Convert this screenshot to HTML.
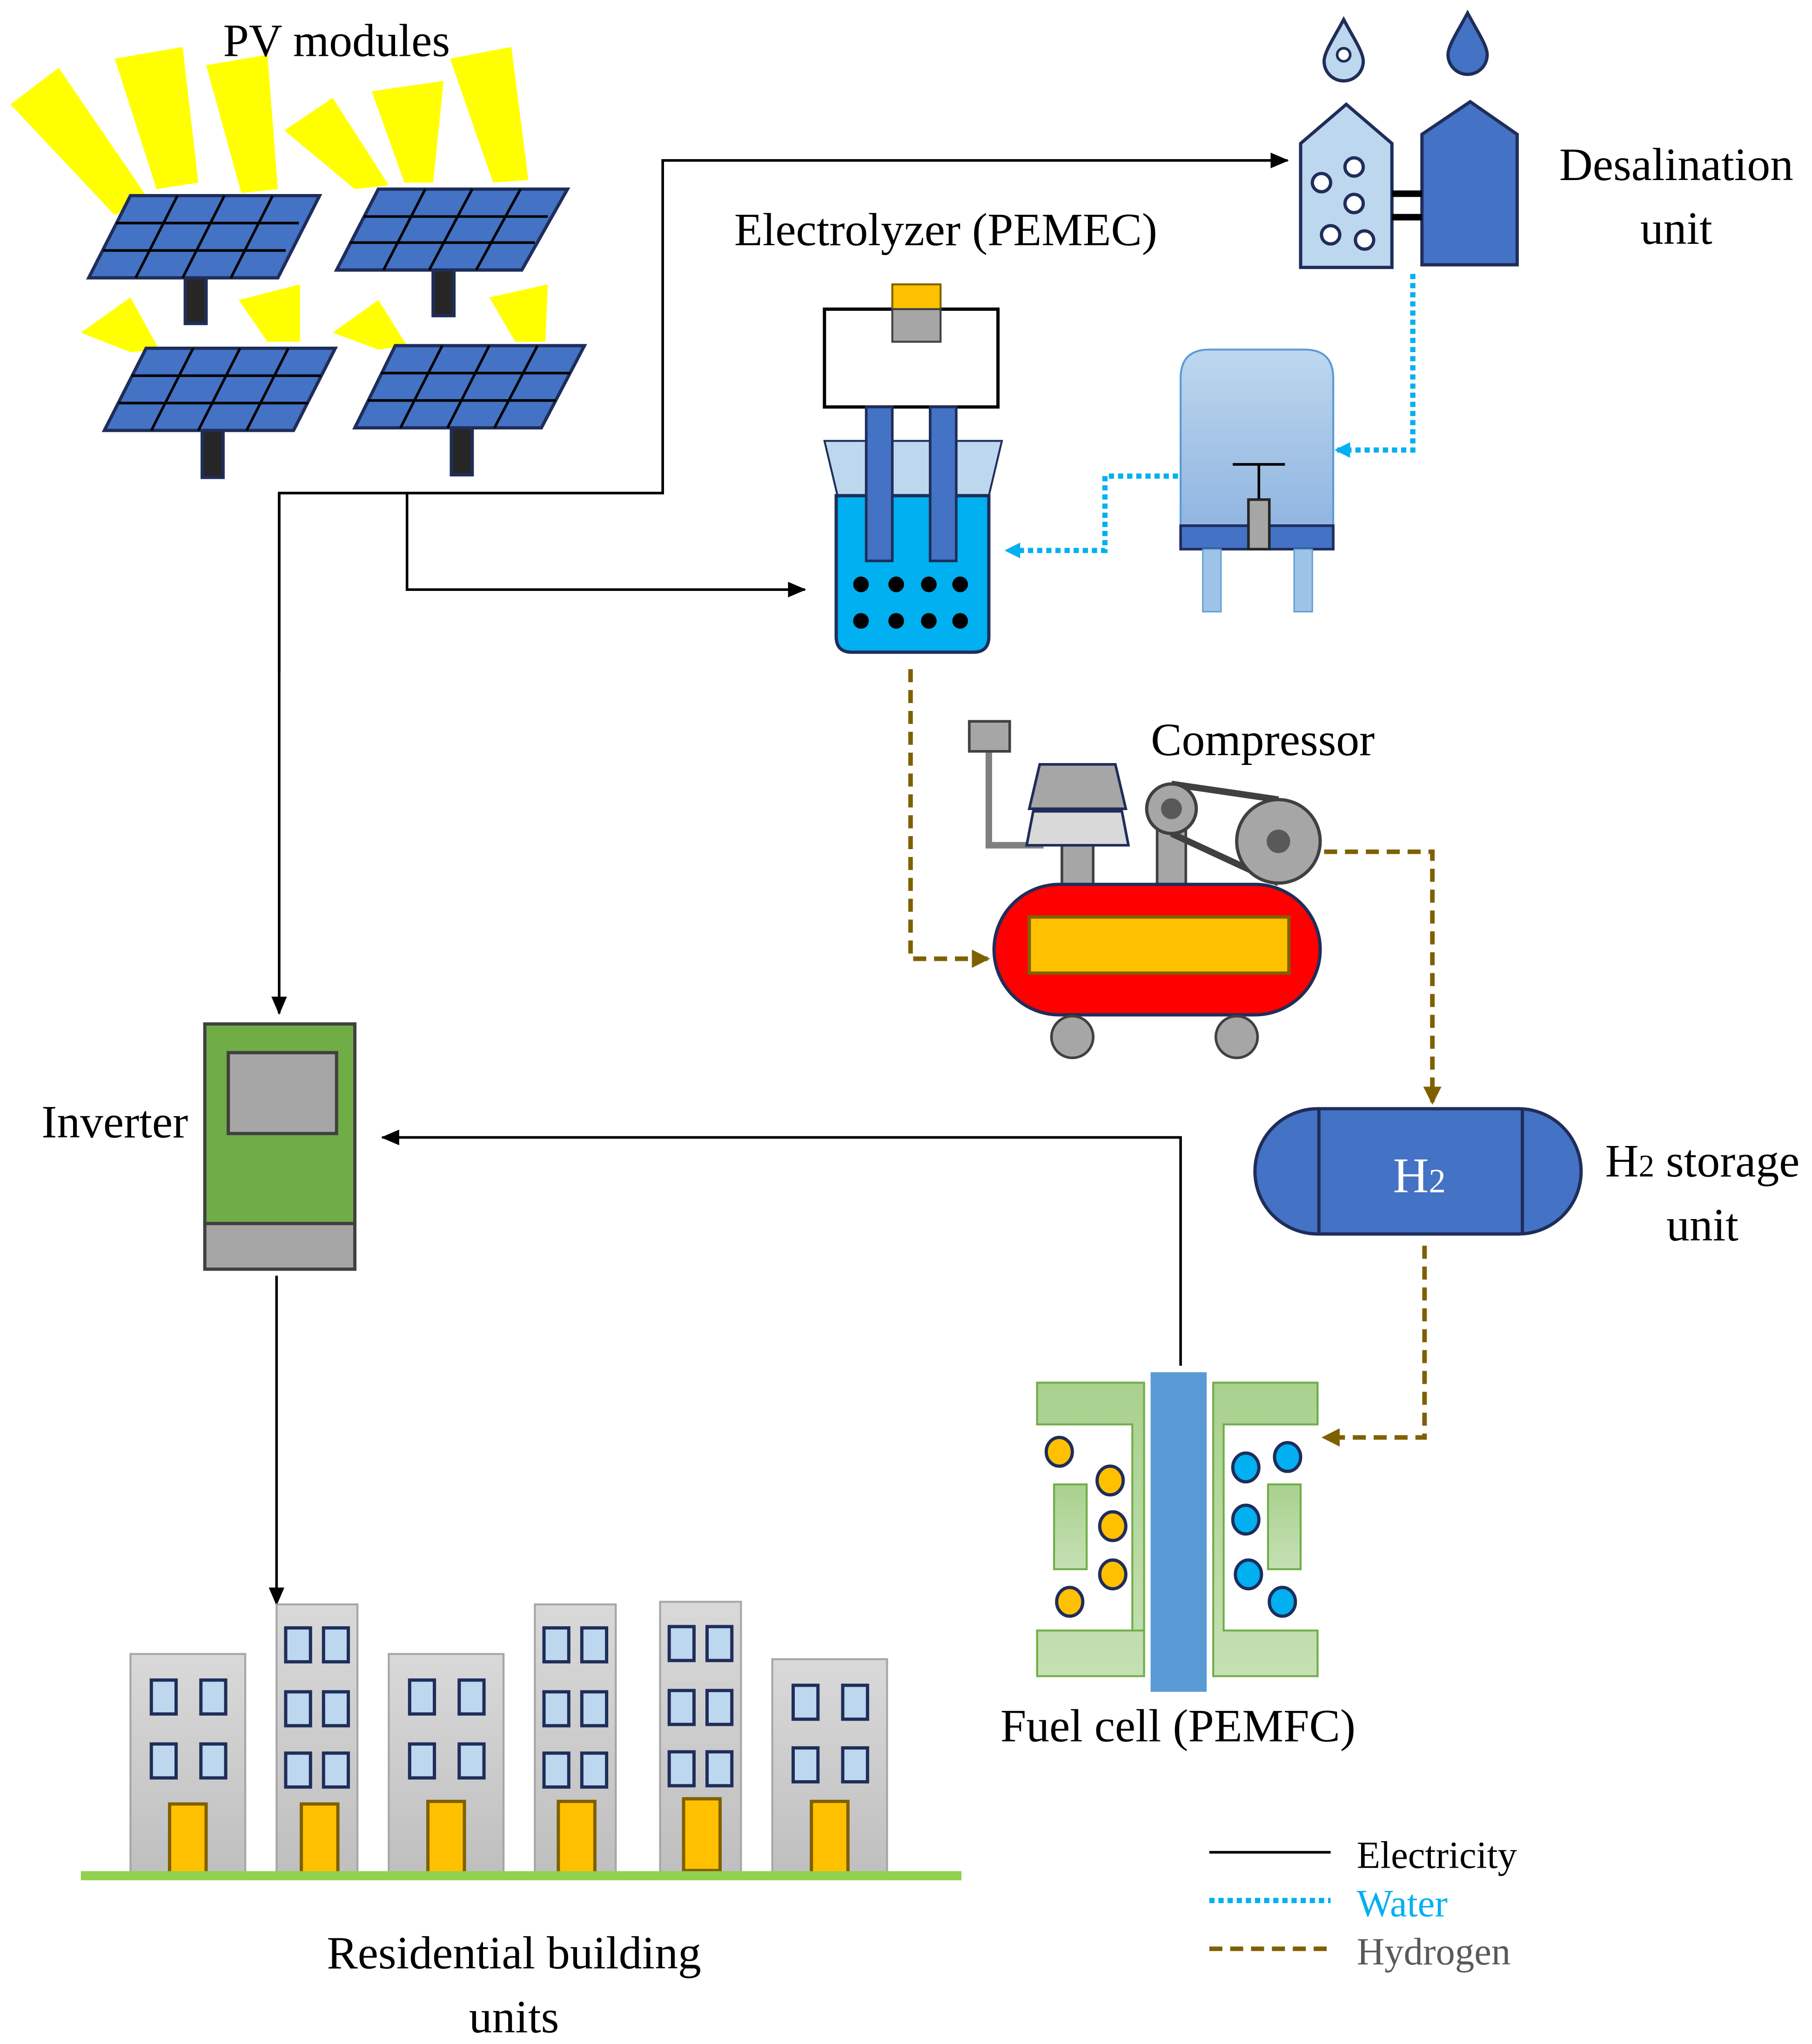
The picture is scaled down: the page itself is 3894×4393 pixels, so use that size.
<!DOCTYPE html>
<html><head><meta charset="utf-8"><style>
html,body{margin:0;padding:0;background:#fff;}
svg{display:block;}
text{font-family:"Liberation Serif",serif;}
</style></head><body>
<svg width="3894" height="4393" viewBox="0 0 1389 1567" xmlns="http://www.w3.org/2000/svg">
<defs>
<marker id="ab" markerWidth="14" markerHeight="12" refX="13" refY="6" orient="auto" markerUnits="userSpaceOnUse"><path d="M0,0 L14,6 L0,12 z" fill="#000"/></marker>
<marker id="aw" markerWidth="12" markerHeight="12" refX="10" refY="6" orient="auto" markerUnits="userSpaceOnUse"><path d="M0,0 L12,6 L0,12 z" fill="#00B0F0"/></marker>
<marker id="ah" markerWidth="14" markerHeight="14" refX="12" refY="7" orient="auto" markerUnits="userSpaceOnUse"><path d="M0,0 L14,7 L0,14 z" fill="#7F6000"/></marker>
<linearGradient id="tg" x1="0" y1="0" x2="0" y2="1"><stop offset="0" stop-color="#BDD7EE"/><stop offset="1" stop-color="#8FB4E0"/></linearGradient>
<linearGradient id="bg" x1="0" y1="0" x2="0" y2="1"><stop offset="0" stop-color="#D9D9D9"/><stop offset="1" stop-color="#BFBFBF"/></linearGradient>
<linearGradient id="fg" x1="0" y1="0" x2="0" y2="1"><stop offset="0" stop-color="#A9D18E"/><stop offset="1" stop-color="#C5E0B4"/></linearGradient>
</defs>

<g fill="#FFFF00">
<polygon points="8,80 45,52 112,150 88,165"/>
<polygon points="88,45 140,36 152,140 120,145"/>
<polygon points="158,50 205,42 213,145 185,148"/>
<polygon points="218,100 255,75 298,142 272,145"/>
<polygon points="285,70 340,62 332,140 310,140"/>
<polygon points="345,45 392,36 405,138 378,140"/>
<polygon points="62,255 100,228 122,268 100,270"/>
<polygon points="183,230 230,218 230,262 205,262"/>
<polygon points="255,255 290,230 312,265 290,268"/>
<polygon points="375,228 420,218 418,262 395,262"/>
</g>
<g stroke="#1F2D5A" stroke-width="2.5">
<rect x="142" y="213" width="16" height="35" fill="#262626"/>
<rect x="332" y="207" width="16" height="35" fill="#262626"/>
<rect x="155" y="330" width="16" height="36" fill="#262626"/>
<rect x="346" y="328" width="16" height="36" fill="#262626"/>
</g>
<g fill="#4472C4" stroke="#1F2D5A" stroke-width="2.5">
<polygon points="100,150 245,150 213,213 68,213"/>
<polygon points="290,145 435,145 400,207 258,207"/>
<polygon points="112,267 257,267 225,330 80,330"/>
<polygon points="303,265 448,265 415,328 272,328"/>
</g>
<g stroke="#000" stroke-width="2">
<path d="M89,171 H229 M79,192 H219 M136,150 L104,213 M172,150 L140,213 M209,150 L177,213"/>
<path d="M279,166 H420 M268,186 H410 M326,145 L294,207 M362,145 L329,207 M399,145 L365,207"/>
<path d="M101,288 H246 M91,309 H236 M148,267 L116,330 M184,267 L152,330 M221,267 L189,330"/>
<path d="M292,286 H437 M282,307 H426 M339,265 L307,328 M375,265 L343,328 M412,265 L379,328"/>
</g>
<text x="258" y="43" font-size="35.5" text-anchor="middle">PV modules</text>

<g stroke="#000" stroke-width="2" fill="none">
<path d="M214,515 V378 H508 V123 H987" marker-end="url(#ab)"/>
<path d="M312,378 V452 H617" marker-end="url(#ab)"/>
<path d="M214,378 V777" marker-end="url(#ab)"/>
<path d="M212,978 V1230" marker-end="url(#ab)"/>
<path d="M905,1047 V872 H293" marker-end="url(#ab)"/>
</g>

<polygon points="997,205 997,110 1032,80 1067,110 1067,205" fill="#BDD7EE" stroke="#1F2D5A" stroke-width="2.5"/>
<polygon points="1090,203 1090,103 1127,78 1163,103 1163,203" fill="#4472C4" stroke="#1F2D5A" stroke-width="2.5"/>
<g fill="#fff" stroke="#1F2D5A" stroke-width="2.5">
<circle cx="1013" cy="140" r="7"/><circle cx="1038" cy="128" r="7"/><circle cx="1038" cy="156" r="7"/>
<circle cx="1020" cy="180" r="7"/><circle cx="1046" cy="184" r="7"/>
</g>
<rect x="1067" y="146" width="23" height="5" fill="#000"/><rect x="1067" y="164" width="23" height="5" fill="#000"/>
<path d="M1030,15 C1038,30 1045,40 1045,47 A15,15 0 0 1 1015,47 C1015,40 1022,30 1030,15 z" fill="#BDD7EE" stroke="#1F2D5A" stroke-width="2.5"/>
<circle cx="1030" cy="42" r="5" fill="#fff" stroke="#1F2D5A" stroke-width="2"/>
<path d="M1125,10 C1133,25 1140,35 1140,42 A15,15 0 0 1 1110,42 C1110,35 1117,25 1125,10 z" fill="#4472C4" stroke="#1F2D5A" stroke-width="2.5"/>
<text x="1285" y="138" font-size="35.5" text-anchor="middle">Desalination</text>
<text x="1285" y="187" font-size="35.5" text-anchor="middle">unit</text>

<g stroke="#00B0F0" stroke-width="4" stroke-dasharray="4,3" fill="none">
<path d="M1083,210 V345 H1025" marker-end="url(#aw)"/>
<path d="M903,365 H847 V422 H772" marker-end="url(#aw)"/>
</g>

<path d="M905,408 V290 Q905,268 927,268 H1000 Q1022,268 1022,290 V408 z" fill="url(#tg)" stroke="#5B9BD5" stroke-width="1.5"/>
<rect x="905" y="403" width="117" height="18" fill="#4472C4" stroke="#1F2D5A" stroke-width="2"/>
<rect x="922" y="421" width="14" height="48" fill="#9DC3E6" stroke="#5B9BD5"/>
<rect x="992" y="421" width="14" height="48" fill="#9DC3E6" stroke="#5B9BD5"/>
<path d="M945,356 H985 M965,356 V383" stroke="#000" stroke-width="2"/>
<rect x="957" y="383" width="16" height="38" fill="#A6A6A6" stroke="#262626" stroke-width="2"/>

<rect x="632" y="237" width="133" height="75" fill="#fff" stroke="#000" stroke-width="2.5"/>
<rect x="684" y="218" width="37" height="19" fill="#FFC000" stroke="#7F6000" stroke-width="1.5"/>
<rect x="684" y="237" width="37" height="25" fill="#A6A6A6" stroke="#404040" stroke-width="1.5"/>
<polygon points="632,338 768,338 758,380 642,380" fill="#BDD7EE" stroke="#1F2D5A" stroke-width="1.5"/>
<path d="M641,380 H758 V488 Q758,500 746,500 H653 Q641,500 641,488 z" fill="#00B0F0" stroke="#1F2D5A" stroke-width="2.5"/>
<rect x="664" y="312" width="20" height="118" fill="#4472C4" stroke="#1F2D5A" stroke-width="2"/>
<rect x="713" y="312" width="20" height="118" fill="#4472C4" stroke="#1F2D5A" stroke-width="2"/>
<g fill="#000">
<circle cx="660" cy="448" r="6"/><circle cx="687" cy="448" r="6"/><circle cx="712" cy="448" r="6"/><circle cx="736" cy="448" r="6"/>
<circle cx="660" cy="476" r="6"/><circle cx="687" cy="476" r="6"/><circle cx="712" cy="476" r="6"/><circle cx="736" cy="476" r="6"/>
</g>
<text x="725" y="188" font-size="35.5" text-anchor="middle">Electrolyzer (PEMEC)</text>

<g stroke="#7F6000" stroke-width="3.5" stroke-dasharray="10,6" fill="none">
<path d="M698,513 V735 H757" marker-end="url(#ah)"/>
<path d="M1015,653 H1098 V845" marker-end="url(#ah)"/>
<path d="M1092,955 V1102 H1015" marker-end="url(#ah)"/>
</g>

<path d="M758,575 V648 H800" stroke="#808080" stroke-width="5" fill="none"/>
<rect x="743" y="553" width="31" height="23" fill="#A6A6A6" stroke="#404040" stroke-width="2"/>
<rect x="814" y="648" width="24" height="32" fill="#A6A6A6" stroke="#404040" stroke-width="2"/>
<polygon points="792,622 860,622 865,648 787,648" fill="#D9D9D9" stroke="#1F2D5A" stroke-width="2"/>
<polygon points="797,586 855,586 863,620 789,620" fill="#A6A6A6" stroke="#1F2D5A" stroke-width="2"/>
<rect x="887" y="620" width="22" height="60" fill="#A6A6A6" stroke="#404040" stroke-width="2"/>
<path d="M898,601 L980,613 M898,639 L980,677" stroke="#404040" stroke-width="5"/>
<circle cx="980" cy="645" r="32" fill="#A6A6A6" stroke="#404040" stroke-width="2.5"/>
<circle cx="980" cy="645" r="9" fill="#595959"/>
<circle cx="898" cy="620" r="19" fill="#A6A6A6" stroke="#404040" stroke-width="2.5"/>
<circle cx="898" cy="620" r="8" fill="#595959"/>
<rect x="762" y="678" width="250" height="100" rx="50" fill="#FF0000" stroke="#1F2D5A" stroke-width="2.5"/>
<rect x="789" y="703" width="199" height="43" fill="#FFC000" stroke="#7F6000" stroke-width="2.5"/>
<circle cx="822" cy="795" r="16" fill="#A6A6A6" stroke="#404040" stroke-width="2"/>
<circle cx="948" cy="795" r="16" fill="#A6A6A6" stroke="#404040" stroke-width="2"/>
<text x="968" y="579" font-size="35.5" text-anchor="middle">Compressor</text>

<rect x="962" y="850" width="250" height="96" rx="48" fill="#4472C4" stroke="#1F2D5A" stroke-width="2.5"/>
<path d="M1011,850 V946 M1167,850 V946" stroke="#1F2D5A" stroke-width="2.5"/>
<text x="1088" y="914" font-size="38" fill="#fff" text-anchor="middle">H<tspan font-size="26">2</tspan></text>
<text x="1305" y="902" font-size="35.5" text-anchor="middle">H<tspan font-size="24">2</tspan> storage</text>
<text x="1305" y="951" font-size="35.5" text-anchor="middle">unit</text>

<rect x="157" y="785" width="115" height="153" fill="#70AD47" stroke="#404040" stroke-width="2.5"/>
<rect x="175" y="807" width="83" height="62" fill="#A6A6A6" stroke="#404040" stroke-width="2.5"/>
<rect x="157" y="938" width="115" height="35" fill="#A6A6A6" stroke="#404040" stroke-width="2.5"/>
<text x="88" y="872" font-size="35.5" text-anchor="middle">Inverter</text>

<g fill="url(#fg)" stroke="#70AD47" stroke-width="1.5">
<path d="M795,1060 H877 V1250 H795 V1285 H877 V1250 H868 V1092 H795 z"/>
<path d="M1010,1060 H930 V1285 H1010 V1250 H938 V1092 H1010 z"/>
<rect x="808" y="1138" width="25" height="65"/>
<rect x="972" y="1138" width="25" height="65"/>
</g>
<rect x="882" y="1052" width="43" height="245" fill="#5B9BD5"/>
<g fill="#FFC000" stroke="#1F2D5A" stroke-width="2.5">
<ellipse cx="812" cy="1113" rx="10" ry="11"/><ellipse cx="851" cy="1135" rx="10" ry="11"/>
<ellipse cx="853" cy="1170" rx="10" ry="11"/><ellipse cx="853" cy="1207" rx="10" ry="11"/>
<ellipse cx="820" cy="1228" rx="10" ry="11"/>
</g>
<g fill="#00B0F0" stroke="#1F2D5A" stroke-width="2.5">
<ellipse cx="955" cy="1125" rx="10" ry="11"/><ellipse cx="987" cy="1117" rx="10" ry="11"/>
<ellipse cx="955" cy="1165" rx="10" ry="11"/><ellipse cx="957" cy="1207" rx="10" ry="11"/>
<ellipse cx="983" cy="1228" rx="10" ry="11"/>
</g>
<text x="903" y="1335" font-size="35.5" text-anchor="middle">Fuel cell (PEMFC)</text>

<g stroke="#A6A6A6" stroke-width="1.5" fill="url(#bg)">
<rect x="100" y="1268" width="88" height="168"/>
<rect x="212" y="1230" width="62" height="206"/>
<rect x="298" y="1268" width="88" height="168"/>
<rect x="410" y="1230" width="62" height="206"/>
<rect x="506" y="1228" width="62" height="208"/>
<rect x="592" y="1272" width="88" height="164"/>
</g>
<g fill="#BDD7EE" stroke="#1F2D5A" stroke-width="2.5">
<rect x="116" y="1288" width="19" height="26"/><rect x="154" y="1288" width="19" height="26"/>
<rect x="116" y="1337" width="19" height="26"/><rect x="154" y="1337" width="19" height="26"/>
<rect x="219" y="1248" width="19" height="26"/><rect x="248" y="1248" width="19" height="26"/>
<rect x="219" y="1297" width="19" height="26"/><rect x="248" y="1297" width="19" height="26"/>
<rect x="219" y="1344" width="19" height="26"/><rect x="248" y="1344" width="19" height="26"/>
<rect x="314" y="1288" width="19" height="26"/><rect x="352" y="1288" width="19" height="26"/>
<rect x="314" y="1337" width="19" height="26"/><rect x="352" y="1337" width="19" height="26"/>
<rect x="417" y="1248" width="19" height="26"/><rect x="446" y="1248" width="19" height="26"/>
<rect x="417" y="1297" width="19" height="26"/><rect x="446" y="1297" width="19" height="26"/>
<rect x="417" y="1344" width="19" height="26"/><rect x="446" y="1344" width="19" height="26"/>
<rect x="513" y="1247" width="19" height="26"/><rect x="542" y="1247" width="19" height="26"/>
<rect x="513" y="1296" width="19" height="26"/><rect x="542" y="1296" width="19" height="26"/>
<rect x="513" y="1343" width="19" height="26"/><rect x="542" y="1343" width="19" height="26"/>
<rect x="608" y="1292" width="19" height="26"/><rect x="646" y="1292" width="19" height="26"/>
<rect x="608" y="1340" width="19" height="26"/><rect x="646" y="1340" width="19" height="26"/>
</g>
<g fill="#FFC000" stroke="#7F6000" stroke-width="2.5">
<rect x="130" y="1383" width="28" height="53"/>
<rect x="231" y="1383" width="28" height="53"/>
<rect x="328" y="1381" width="28" height="55"/>
<rect x="428" y="1381" width="28" height="55"/>
<rect x="524" y="1379" width="28" height="55"/>
<rect x="622" y="1381" width="28" height="55"/>
</g>
<path d="M62,1438 H737" stroke="#92D050" stroke-width="7"/>
<text x="394" y="1509" font-size="35.5" text-anchor="middle">Residential building</text>
<text x="394" y="1558" font-size="35.5" text-anchor="middle">units</text>

<path d="M927,1420 H1020" stroke="#000" stroke-width="2"/>
<path d="M927,1457 H1020" stroke="#00B0F0" stroke-width="4" stroke-dasharray="4,3"/>
<path d="M927,1494 H1020" stroke="#7F6000" stroke-width="3.5" stroke-dasharray="10,6"/>
<text x="1040" y="1432" font-size="29.5">Electricity</text>
<text x="1040" y="1469" font-size="29.5" fill="#00B0F0">Water</text>
<text x="1040" y="1506" font-size="29.5" fill="#595959">Hydrogen</text>
</svg>
</body></html>
